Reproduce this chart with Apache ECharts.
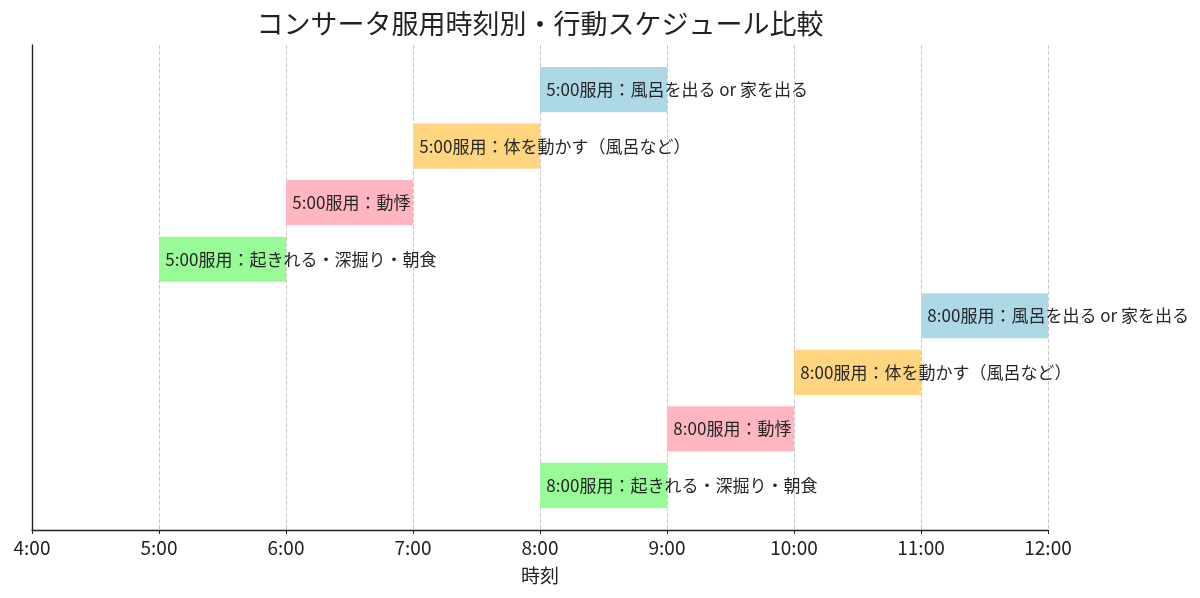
<!DOCTYPE html>
<html>
<head>
<meta charset="utf-8">
<script src="https://cdn.jsdelivr.net/npm/echarts@6/dist/echarts.min.js"></script>
<style>
  html, body { margin: 0; padding: 0; background: #fff; }
  #container { width: 1200px; height: 598px; }
</style>
</head>
<body>
<div id="container"></div>
<script>
// rows from bottom to top
var rowLabels = [
    '8:00服用：起きれる・深掘り・朝食',
    '8:00服用：動悸',
    '8:00服用：体を動かす（風呂など）',
    '8:00服用：風呂を出る or 家を出る',
    '5:00服用：起きれる・深掘り・朝食',
    '5:00服用：動悸',
    '5:00服用：体を動かす（風呂など）',
    '5:00服用：風呂を出る or 家を出る'
];
var startHours = [8, 9, 10, 11, 5, 6, 7, 8];
var endHours = [9, 10, 11, 12, 6, 7, 8, 9];
var activityIndex = [0, 1, 2, 3, 0, 1, 2, 3];

var activityColors = ['#98fb98', '#ffb6c1', '#ffd580', '#add8e6'];

var dom = document.getElementById("container");
var myChart = echarts.init(dom);

var data = rowLabels.map(function (name, i) {
    return [startHours[i], endHours[i], i, activityIndex[i]];
});

function renderItem(params, api) {
    var start = api.value(0), end = api.value(1), row = api.value(2);
    var p0 = api.coord([start, row + 0.4]);
    var p1 = api.coord([end, row - 0.4]);
    var mid = api.coord([start + 0.05, row]);
    return {
        type: 'group',
        children: [
            {
                type: 'rect',
                shape: { x: p0[0], y: p0[1], width: p1[0] - p0[0], height: p1[1] - p0[1] },
                style: { fill: activityColors[api.value(3)] }
            },
            {
                type: 'text',
                x: mid[0],
                y: mid[1],
                style: {
                    text: rowLabels[row],
                    fill: '#262626',
                    font: '17px "Noto Sans CJK JP"',
                    textAlign: 'left',
                    textVerticalAlign: 'middle'
                }
            }
        ]
    };
}

option = {
    backgroundColor: '#fff',
    textStyle: { fontFamily: '"Noto Sans CJK JP", sans-serif' },
    title: {
        text: 'コンサータ服用時刻別・行動スケジュール比較',
        left: 535,
        textAlign: 'center',
        top: 5,
        textStyle: { fontSize: 27, fontWeight: 'normal', color: '#222' }
    },
    grid: { left: 32, right: 152, top: 45, bottom: 68 },
    xAxis: {
        type: 'value',
        min: 4,
        max: 12,
        interval: 1,
        name: '時刻',
        nameLocation: 'middle',
        nameGap: 36,
        nameTextStyle: { fontSize: 19, color: '#222' },
        axisLine: { onZero: false, lineStyle: { color: '#222', width: 1.4 } },
        axisTick: { show: true, length: 4, lineStyle: { color: '#222' } },
        axisLabel: {
            fontSize: 19, color: '#222', margin: 8,
            formatter: function (v) { return v + ':00'; }
        },
        splitLine: { show: true, lineStyle: { color: '#c8c8c8', type: 'dashed', width: 1 } }
    },
    yAxis: {
        type: 'value',
        min: -0.79,
        max: 7.79,
        axisLine: { show: true, onZero: false, lineStyle: { color: '#222', width: 1.4 } },
        axisTick: { show: false },
        axisLabel: { show: false },
        splitLine: { show: false }
    },
    series: [
        {
            type: 'custom',
            renderItem: renderItem,
            encode: { x: [0, 1], y: 2 },
            data: data,
            clip: false
        }
    ]
};

if (option && typeof option === "object") {
    myChart.setOption(option, true);
}
</script>
</body>
</html>
